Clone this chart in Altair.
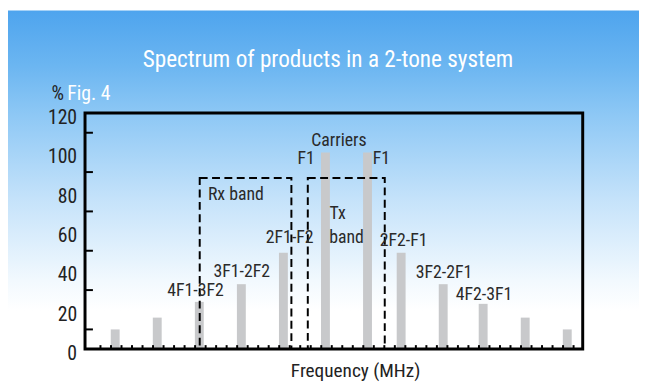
import altair as alt
import pandas as pd

# ---------------- data ----------------
FREQ = [0.6, 1.6, 2.6, 3.6, 4.6, 5.6, 6.6, 7.4, 8.4, 9.35, 10.35, 11.35]
LEVEL = [10, 16, 24, 33, 49, 100, 100, 49, 33, 23, 16, 10]

BAND_NAME = ["Rx", "Tx"]
BAND_LO = [2.61, 5.18]
BAND_HI = [4.79, 7.01]
BAND_TOP = [87, 87]

LABEL_TEXT = ["4F1-3F2", "3F1-2F2", "2F1-F2", "F1", "Carriers", "F1", "Tx", "band",
              "Rx band", "2F2-F1", "3F2-2F1", "4F2-3F1"]
LABEL_X = [2.51, 3.61, 4.75, 5.14, 5.92, 6.93, 5.89, 6.10, 3.47, 7.46, 8.42, 9.37]
LABEL_Y = [29.5, 39, 56.5, 96.5, 106, 96.5, 68.5, 56.5, 78.5, 55, 38.5, 27.5]

Y_LABELS = [0, 20, 40, 60, 80, 100, 120]
Y_MINOR = [10, 30, 50, 70, 90, 110]
X_TICKS = [0.25 * i for i in range(1, 47)]

TITLE = "Spectrum of products in a 2-tone system"
FIG_PCT = "%"
FIG_LABEL = "Fig. 4"
X_TITLE = "Frequency (MHz)"

# ---------------- layout ----------------
W, H = 504, 239
PAD_L, PAD_T = 78, 104
PAD_R = 639 - PAD_L - W
PAD_B = 380 - PAD_T - H
FONT = "Roboto Condensed, Noto Sans Condensed, DejaVu Sans Condensed, Liberation Sans Narrow, Liberation Sans"

xs = alt.Scale(domain=[0, 11.6], nice=False, zero=False)
ys = alt.Scale(domain=[0, 120], nice=False)

one = pd.DataFrame({"a": [0]})

bg = alt.Chart(one).mark_rect(
    fill=alt.LinearGradient(
        gradient="linear",
        stops=[
            alt.GradientStop(color="#4ea4ee", offset=0),
            alt.GradientStop(color="#6cb6f1", offset=0.15),
            alt.GradientStop(color="#8ec8f5", offset=0.28),
            alt.GradientStop(color="#c4e2fa", offset=0.5),
            alt.GradientStop(color="#f2f9fe", offset=0.72),
            alt.GradientStop(color="#ffffff", offset=0.8),
            alt.GradientStop(color="#ffffff", offset=1),
        ],
        x1=0, x2=0, y1=0, y2=1,
    )
).encode(
    x=alt.value(-PAD_L), x2=alt.value(W + PAD_R),
    y=alt.value(-PAD_T), y2=alt.value(H + PAD_B),
)

bars_df = pd.DataFrame({"f": FREQ, "v": LEVEL})
bars = alt.Chart(bars_df).mark_bar(size=9, color="#c8c9cb").encode(
    x=alt.X("f:Q", scale=xs, axis=None),
    y=alt.Y("v:Q", scale=ys, axis=None),
)

band_df = pd.DataFrame({"name": BAND_NAME, "lo": BAND_LO, "hi": BAND_HI, "top": BAND_TOP})
bands = alt.Chart(band_df).mark_rect(
    filled=False, stroke="black", strokeWidth=2, strokeDash=[8, 4.5]
).encode(
    x=alt.X("lo:Q", scale=xs, axis=None), x2="hi:Q",
    y=alt.Y("top:Q", scale=ys, axis=None), y2=alt.datum(0),
)

ymin_df = pd.DataFrame({"t": Y_MINOR})
yticks = alt.Chart(ymin_df).mark_rule(color="black", strokeWidth=2).encode(
    y=alt.Y("t:Q", scale=ys, axis=None), x=alt.value(0), x2=alt.value(8),
)

ylab_df = pd.DataFrame({"t": Y_LABELS})
ylabels = alt.Chart(ylab_df).mark_text(
    font=FONT, fontSize=20, color="#222222", align="right", baseline="middle", dy=5
).encode(
    y=alt.Y("t:Q", scale=ys, axis=None), x=alt.value(-8), text="t:Q",
)

xt_df = pd.DataFrame({"t": X_TICKS})
xticks = alt.Chart(xt_df).mark_rule(color="black", strokeWidth=2).encode(
    x=alt.X("t:Q", scale=xs, axis=None), y=alt.value(H), y2=alt.value(H - 4),
)

frame = alt.Chart(one).mark_rect(filled=False, stroke="black", strokeWidth=3).encode(
    x=alt.value(0), x2=alt.value(W), y=alt.value(0), y2=alt.value(H),
)

lab_df = pd.DataFrame({"t": LABEL_TEXT, "x": LABEL_X, "y": LABEL_Y})
labels = alt.Chart(lab_df).mark_text(
    font=FONT, fontSize=18, color="#2a2a2a", baseline="middle", align="center"
).encode(
    x=alt.X("x:Q", scale=xs, axis=None), y=alt.Y("y:Q", scale=ys, axis=None), text="t:N",
)

title = alt.Chart(one).mark_text(
    text=TITLE, font=FONT, fontSize=23.5, color="white", align="center", baseline="middle"
).encode(x=alt.value(246), y=alt.value(-54))

pct = alt.Chart(one).mark_text(
    text=FIG_PCT, font=FONT, fontSize=20, color="#222222", align="left", baseline="middle"
).encode(x=alt.value(-34), y=alt.value(-19))

fig = alt.Chart(one).mark_text(
    text=FIG_LABEL, font=FONT, fontSize=20, color="white", align="left", baseline="middle"
).encode(x=alt.value(-18), y=alt.value(-19))

xtitle = alt.Chart(one).mark_text(
    text=X_TITLE, font=FONT, fontSize=19.5, color="#222222", align="center", baseline="middle"
).encode(x=alt.value(274), y=alt.value(H + 22))

chart = alt.layer(
    bg, bars, bands, yticks, ylabels, xticks, frame, labels, title, pct, fig, xtitle
).properties(
    width=W, height=H,
    autosize=alt.AutoSizeParams(type="none"),
    padding={"left": PAD_L, "top": PAD_T, "right": PAD_R, "bottom": PAD_B},
).configure_view(stroke=None)

chart.save("out.html", embed_options={"renderer": "svg", "actions": False})
